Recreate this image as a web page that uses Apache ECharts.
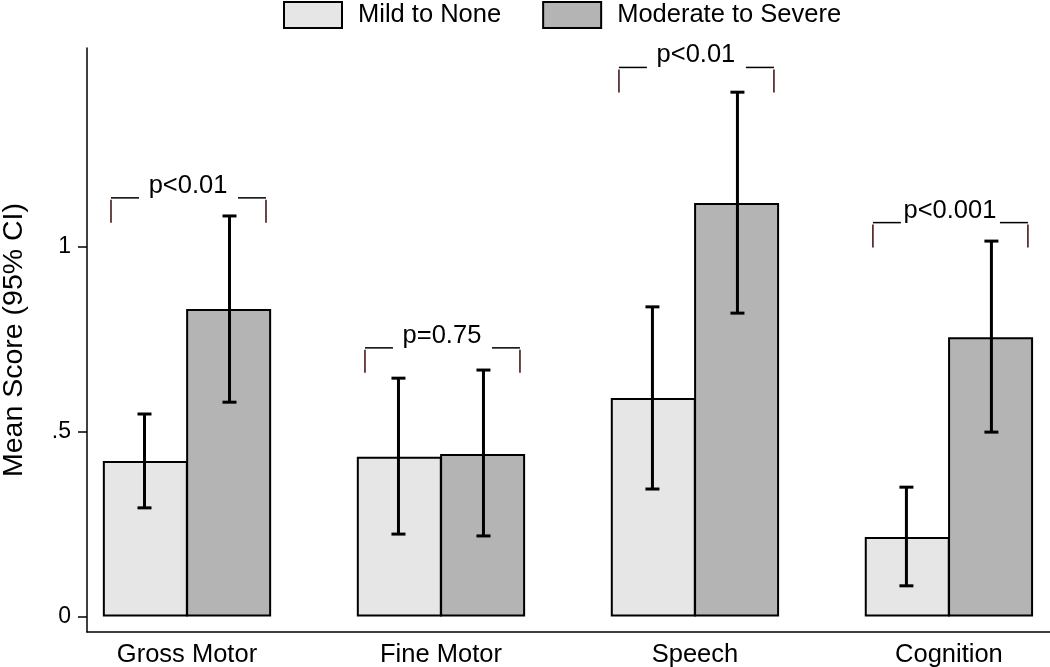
<!DOCTYPE html>
<html>
<head>
<meta charset="utf-8">
<script src="https://cdn.jsdelivr.net/npm/echarts@6/dist/echarts.min.js"></script>
<style>html,body{margin:0;padding:0;background:#fff}#c{width:1050px;height:667px}</style>
</head>
<body>
<div id="c"></div>
<script>
var categories = ['Gross Motor', 'Fine Motor', 'Speech', 'Cognition'];
var seriesNames = ['Mild to None', 'Moderate to Severe'];
var mildMean = [0.421, 0.432, 0.591, 0.215];
var mildLow  = [0.294, 0.223, 0.345, 0.083];
var mildHigh = [0.548, 0.645, 0.838, 0.350];
var modMean  = [0.832, 0.440, 1.119, 0.756];
var modLow   = [0.580, 0.218, 0.821, 0.499];
var modHigh  = [1.084, 0.667, 1.419, 1.016];
var pLabels  = ['p<0.01', 'p=0.75', 'p<0.01', 'p<0.001'];
var pLevels  = [1.133, 0.727, 1.486, 1.066];
var yTicks   = [0, 0.5, 1];
var yTickLabels = ['0', '.5', '1'];

var FONT = 'Liberation Sans, Arial, sans-serif';
var BARW = 85;

function pairs(vals) { return vals.map(function (v, i) { return [i, v]; }); }

function errSeries(low, high, off) {
  return {
    type: 'custom',
    silent: true,
    z: 5,
    data: low.map(function (l, i) { return [i, l, high[i]]; }),
    renderItem: function (params, api) {
      var p1 = api.coord([api.value(0), api.value(1)]);
      var p2 = api.coord([api.value(0), api.value(2)]);
      var x = p1[0] + off;
      var st = { stroke: '#000', lineWidth: 3 };
      return {
        type: 'group',
        children: [
          { type: 'line', shape: { x1: x, y1: p1[1], x2: x, y2: p2[1] }, style: st },
          { type: 'line', shape: { x1: x - 7, y1: p1[1], x2: x + 7, y2: p1[1] }, style: st },
          { type: 'line', shape: { x1: x - 7, y1: p2[1], x2: x + 7, y2: p2[1] }, style: st }
        ]
      };
    }
  };
}

var chart = echarts.init(document.getElementById('c'), null, { renderer: 'canvas' });
chart.setOption({
  animation: false,
  backgroundColor: '#fff',
  legend: {
    top: 1,
    left: 283,
    padding: 0,
    itemWidth: 58,
    itemHeight: 26,
    itemGap: 41,
    textStyle: { fontFamily: FONT, fontSize: 25.5, color: '#000', padding: [0, 0, 0, 11] },
    data: [
      { name: seriesNames[0], icon: 'rect', itemStyle: { color: '#e6e6e6', borderColor: '#000', borderWidth: 2 } },
      { name: seriesNames[1], icon: 'rect', itemStyle: { color: '#b4b4b4', borderColor: '#000', borderWidth: 2 } }
    ]
  },
  grid: { left: 87, right: 0, top: 48, bottom: 35, containLabel: false, outerBoundsMode: 'none' },
  xAxis: {
    type: 'value',
    min: -0.3937,
    max: 3.398,
    splitLine: { show: false },
    axisLine: { show: true, onZero: false, lineStyle: { color: '#000', width: 1.5 } },
    axisTick: { show: false },
    axisLabel: {
      customValues: [0, 1, 2, 3],
      formatter: function (v) { return categories[Math.round(v)] || ''; },
      fontFamily: FONT, fontSize: 25.5, color: '#000', margin: 10,
      showMinLabel: true, showMaxLabel: true
    }
  },
  yAxis: {
    type: 'value',
    min: -0.042,
    max: 1.5386,
    name: 'Mean Score (95% CI)',
    nameLocation: 'middle',
    nameRotate: 90,
    nameGap: 58,
    nameTextStyle: { fontFamily: FONT, fontSize: 28.5, color: '#000' },
    splitLine: { show: false },
    axisLine: { show: true, onZero: false, lineStyle: { color: '#000', width: 1.5 } },
    axisTick: { show: true, customValues: yTicks, length: 9, lineStyle: { color: '#000', width: 1.5 } },
    axisLabel: {
      customValues: yTicks,
      formatter: function (v) { var i = yTicks.indexOf(v); return i >= 0 ? yTickLabels[i] : ''; },
      fontFamily: FONT, fontSize: 23, color: '#000', margin: 16
    }
  },
  series: [
    {
      name: seriesNames[0], type: 'bar', barWidth: BARW, barGap: '-2%',
      data: pairs(mildMean),
      itemStyle: { color: '#e6e6e6', borderColor: '#000', borderWidth: 2 },
      z: 2
    },
    {
      name: seriesNames[1], type: 'bar', barWidth: BARW, barGap: '-2%',
      data: pairs(modMean),
      itemStyle: { color: '#b4b4b4', borderColor: '#000', borderWidth: 2 },
      z: 2
    },
    errSeries(mildLow, mildHigh, -BARW / 2),
    errSeries(modLow, modHigh, BARW / 2),
    {
      type: 'custom',
      silent: true,
      z: 6,
      data: pLevels.map(function (l, i) { return [i, l, pLabels[i]]; }),
      renderItem: function (params, api) {
        var p = api.coord([api.value(0), api.value(1)]);
        var cx = p[0], y = p[1];
        var xl = cx - 76, xr = cx + 79;
        var st = { stroke: '#000', lineWidth: 1.5 };
        var stTick = { stroke: '#3a0a0a', lineWidth: 1.5 };
        return {
          type: 'group',
          children: [
            { type: 'line', shape: { x1: xl, y1: y, x2: xl + 28, y2: y }, style: st },
            { type: 'line', shape: { x1: xr - 28, y1: y, x2: xr, y2: y }, style: st },
            { type: 'line', shape: { x1: xl, y1: y + 2, x2: xl, y2: y + 25 }, style: stTick },
            { type: 'line', shape: { x1: xr, y1: y + 2, x2: xr, y2: y + 25 }, style: stTick },
            {
              type: 'text',
              style: {
                x: cx + 1, y: y - 12,
                text: api.value(2),
                textAlign: 'center', textVerticalAlign: 'middle',
                font: '25.5px ' + FONT, fill: '#000'
              }
            }
          ]
        };
      }
    }
  ]
});
</script>
</body>
</html>
